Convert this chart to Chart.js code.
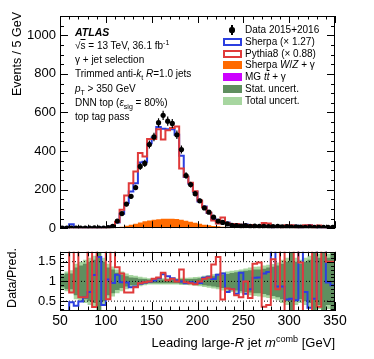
<!DOCTYPE html>
<html>
<head>
<meta charset="utf-8">
<script src="https://cdn.jsdelivr.net/npm/chart.js@4.4.1/dist/chart.umd.min.js"></script>
<style>
  body { margin: 0; background: #fff; width: 374px; height: 359px; position: relative; overflow: hidden;
         font-family: "Liberation Sans", Arial, sans-serif; color: #000; }
  canvas { position: absolute; left: 0; }
  #main  { top: 0; }
  #ratio { top: 240px; }
  .txt { position: absolute; white-space: nowrap; }
  .rot { position: absolute; white-space: nowrap; transform: rotate(-90deg); transform-origin: left top; }
  .ann { position: absolute; left: 75px; top: 24.5px; font-size: 10px; line-height: 14.3px; }
  .leg { position: absolute; left: 245px; font-size: 10px; line-height: 12px; white-space: nowrap; }
  .box { position: absolute; left: 223px; width: 19px; height: 8px; box-sizing: border-box; }
  sub, sup { font-size: 70%; line-height: 0; }
</style>
</head>
<body>
<canvas id="main" width="374" height="240"></canvas>
<canvas id="ratio" width="374" height="119"></canvas>

<div class="ann">
  <div style="font-weight:bold;font-style:italic;font-size:10.5px">ATLAS</div>
  <div>√<span style="text-decoration:overline">s</span> = 13 TeV, 36.1 fb<sup>-1</sup></div>
  <div>γ + jet selection</div>
  <div>Trimmed anti-<i>k</i><sub>t</sub> <i>R</i>=1.0 jets</div>
  <div><i>p</i><sub>T</sub> &gt; 350 GeV</div>
  <div>DNN top (<i>ε</i><sub>sig</sub> = 80%)</div>
  <div>top tag pass</div>
</div>

<div id="legend"></div>

<div class="rot" style="left:10px;top:112px;width:100px;text-align:right;font-size:12.5px;line-height:14px">Events / 5 GeV</div>
<div class="rot" style="left:5px;top:318px;width:80px;text-align:center;font-size:12.5px;line-height:14px">Data/Pred.</div>
<div class="txt" style="right:39px;top:335px;font-size:13px;line-height:16px">Leading large-<i>R</i> jet <i>m</i><sup>comb</sup> [GeV]</div>

<script>
// ── binning: 5 GeV bins from 50 to 350 GeV ──────────────────────────────────
const BIN_LO = 50, BIN_W = 5, NBINS = 60;

// ── main panel (events / bin) ───────────────────────────────────────────────
const dataCounts = [1,0,1,1,0,1,1,2,1,1, 3,10,37,76,125,165,211,320,336,434,
  473,547,585,555,543,484,408,273,226,179, 142,105,83,57,37,30,22,15,14,11,
  13,10,11,9,10,8,8,9,7,8, 6,7,6,5,6,5,5,4,5,4];
const dataErr = [1,0,1,1,0,1,1,1.4,1,1, 1.7,3.2,6.1,8.7,11.2,12.8,14.5,17.9,18.3,20.8,
  21.7,23.4,24.2,23.6,23.3,22,20.2,16.5,15,13.4, 11.9,10.2,9.1,7.5,6.1,5.5,4.7,3.9,3.7,3.3,
  3.6,3.2,3.3,3,3.2,2.8,2.8,3,2.6,2.8, 2.4,2.6,2.4,2.2,2.4,2.2,2.2,2,2.2,2];
const sherpaPred = [2,3,20,3,2,2,3,2,2,3, 5,11,30,75,130,190,233,340,345,440,
  470,525,515,513,513,485,375,265,231,189, 138,113,79,46,36,30,30,19,20,9,
  19,12,10,8,9,6.5,4,10,8,11, 11,13,3,8,15,9,2.5,2,5,4.5];
const pythiaPred = [1,1,1,1,1,1,1,1,1,1, 2,8,32,96,170,233,294,390,372,462,
  462,513,460,508,520,527,310,268,236,192, 143,108,81,40,24,56,27,19,22,18,
  10,17,7,7,27,25,5,9,3,15, 15,3,4,15,15,2.5,14,2,3,3];
const wzGamma = [0,0,0,0,0,0,0,0,0.5,1, 1.5,2,4,7,11,16,21,27,32,36,
  39,42,44,45,45,43,40,36,31,26, 21,17,14,11,9,7,5,4,3,2.5,
  2,1.5,1.2,1,1,1,0.8,0.8,0.8,0.6, 0.6,0.6,0.5,0.5,0.5,0.4,0.4,0.4,0.4,0.3];
const ttGamma = [0,0,0,0,0,0,0,0,0,0, 0,0.2,0.4,0.8,1.2,1.8,2.4,3,3.5,4,
  4.3,4.5,4.6,4.6,4.4,4.1,3.7,3.2,2.7,2.2, 1.8,1.4,1.1,0.9,0.7,0.5,0.4,0.3,0.3,0.2,
  0.2,0.2,0.2,0.2,0.2,0.2,0.2,0.2,0.2,0.2, 0.1,0.1,0.1,0.1,0.1,0.1,0.1,0.1,0.1,0.1];

// ── ratio panel (data / prediction) ─────────────────────────────────────────
const sherpaRatio = [0,0,0.47,0.38,0.49,0.6,0.73,1.16,1.62,0.4,
  1.05,0.96,1.17,0.98,0.97,0.85,0.87,0.94,0.97,0.99,
  1.02,1.08,1.18,1.13,1.08,1.03,1.0,0.95,0.98,0.95,
  0.96,1.09,1.12,1.06,1.17,1.2,0.73,0.8,0.69,1.22,
  0.69,0.8,1.09,1.1,1.2,1.24,2.0,0.87,0.87,0.54,
  0.56,0.52,2.0,0.73,0.33,0.56,2.0,2.0,0.97,0.9];
const pythiaRatio = [2.0,2.0,0.72,2.0,0.6,0.6,2.0,0.35,2.0,2.0,
  0.55,2.0,1.36,1.2,0.72,0.72,0.85,0.95,0.98,1.0,
  1.07,1.1,1.22,1.03,1.07,1.0,1.3,0.98,0.95,0.93,
  1.0,1.07,1.1,1.43,1.62,0.54,0.82,0.8,0.65,0.6,
  1.0,0.58,1.45,1.48,0.36,0.4,1.56,0.8,2.0,0.0,
  0.0,2.0,1.48,0.0,0.0,2.0,0.36,2.0,1.5,1.5];
const statUnc = [0.15,0.2,0.2,0.35,0.4,0.45,0.5,0.55,0.75,0.5,
  0.35,0.3,0.22,0.17,0.13,0.1,0.09,0.07,0.06,0.05,
  0.05,0.05,0.05,0.05,0.05,0.05,0.06,0.06,0.06,0.07,
  0.08,0.1,0.11,0.13,0.15,0.17,0.19,0.21,0.23,0.25,
  0.27,0.28,0.3,0.3,0.32,0.35,0.37,0.4,0.45,0.5,
  0.75,0.5,0.45,0.5,0.55,0.75,0.6,0.75,0.6,0.75];
const totalUnc = [0.2,0.25,0.28,0.45,0.5,0.55,0.6,0.65,0.8,0.6,
  0.45,0.38,0.3,0.25,0.2,0.16,0.14,0.12,0.1,0.08,
  0.08,0.08,0.08,0.08,0.08,0.08,0.09,0.09,0.1,0.11,
  0.12,0.14,0.16,0.18,0.2,0.23,0.25,0.27,0.28,0.3,
  0.33,0.35,0.37,0.38,0.4,0.42,0.44,0.48,0.55,0.6,
  0.75,0.6,0.55,0.6,0.65,0.75,0.7,0.75,0.7,0.75];

// ── axes ────────────────────────────────────────────────────────────────────
const xTicks      = [50, 100, 150, 200, 250, 300, 350];
const yTicksMain  = [0, 200, 400, 600, 800, 1000];
const yTicksRatio = [0.5, 1, 1.5];
const refLines    = [0.5, 1, 1.5];

const FONT = '"Liberation Sans", Arial, sans-serif';
const C = {
  sherpa: '#2b3fe0', pythia: '#e03a3a', wz: '#ff6a00', tt: '#cc00ff',
  stat: '#5f8f5f', total: '#a7d6a0'
};

const edges   = Array.from({ length: NBINS + 1 }, (_, i) => BIN_LO + i * BIN_W);
const centers = edges.slice(0, -1).map(e => e + BIN_W / 2);

function stepPoints(vals) {
  const pts = [];
  vals.forEach((v, i) => { pts.push({ x: edges[i], y: v }, { x: edges[i + 1], y: v }); });
  return pts;
}

// ── ROOT style frame with inward ticks on all four sides ───────────────────
function rootFrame(o) {
  return {
    id: 'rootFrame',
    afterDraw(chart) {
      const { ctx, chartArea: a, scales: { x, y } } = chart;
      ctx.save();
      ctx.strokeStyle = '#000';
      ctx.lineWidth = 1;
      ctx.beginPath();
      const nx = Math.round((x.max - x.min) / o.xMinor);
      for (let i = 0; i <= nx; i++) {
        const v = x.min + i * o.xMinor;
        const len = (Math.abs(v / o.xMajor - Math.round(v / o.xMajor)) < 1e-6) ? o.xMajorLen : o.xMajorLen / 2;
        const px = Math.round(x.getPixelForValue(v)) + 0.5;
        ctx.moveTo(px, a.bottom); ctx.lineTo(px, a.bottom - len);
        ctx.moveTo(px, a.top);    ctx.lineTo(px, a.top + len);
      }
      const y0 = Math.ceil(y.min / o.yMinor - 1e-6), y1 = Math.floor(y.max / o.yMinor + 1e-6);
      for (let i = y0; i <= y1; i++) {
        const v = i * o.yMinor;
        const len = (Math.abs(v / o.yMajor - Math.round(v / o.yMajor)) < 1e-6) ? o.yMajorLen : o.yMajorLen / 2;
        const py = Math.round(y.getPixelForValue(v)) + 0.5;
        ctx.moveTo(a.left, py);  ctx.lineTo(a.left + len, py);
        ctx.moveTo(a.right, py); ctx.lineTo(a.right - len, py);
      }
      ctx.stroke();
      ctx.strokeRect(Math.round(a.left) + 0.5, Math.round(a.top) + 0.5,
                     Math.round(a.right - a.left) - 1, Math.round(a.bottom - a.top) - 1);
      ctx.restore();
    }
  };
}

// vertical error bars on the data points
const errorBars = {
  id: 'errorBars',
  afterDatasetsDraw(chart) {
    const { ctx, chartArea: a, scales: { x, y } } = chart;
    chart.data.datasets.forEach(ds => {
      if (!ds.errors) return;
      ctx.save();
      ctx.beginPath();
      ctx.rect(a.left, a.top, a.right - a.left, a.bottom - a.top);
      ctx.clip();
      ctx.strokeStyle = '#000';
      ctx.lineWidth = 1.2;
      ctx.beginPath();
      ds.data.forEach((p, i) => {
        const e = ds.errors[i];
        if (!e) return;
        const px = x.getPixelForValue(p.x);
        ctx.moveTo(px, y.getPixelForValue(p.y - e));
        ctx.lineTo(px, y.getPixelForValue(p.y + e));
      });
      ctx.stroke();
      ctx.restore();
    });
  }
};

const lineDefaults = { pointRadius: 0, tension: 0, fill: false };

// ── main panel ──────────────────────────────────────────────────────────────
new Chart(document.getElementById('main'), {
  type: 'line',
  data: {
    datasets: [
      { data: centers.map((c, i) => ({ x: c, y: dataCounts[i] })), errors: dataErr,
        showLine: false, pointRadius: 2.6, pointBorderWidth: 0, pointBackgroundColor: '#000', order: 0 },
      { ...lineDefaults, data: stepPoints(pythiaPred), borderColor: C.pythia, borderWidth: 2, order: 1 },
      { ...lineDefaults, data: stepPoints(sherpaPred), borderColor: C.sherpa, borderWidth: 2, order: 2 },
      { ...lineDefaults, data: stepPoints(ttGamma), borderWidth: 0, fill: 'origin', backgroundColor: C.tt, order: 3 },
      { ...lineDefaults, data: stepPoints(wzGamma.map((v, i) => v + ttGamma[i])), borderWidth: 0,
        fill: 'origin', backgroundColor: C.wz, order: 4 }
    ]
  },
  options: {
    responsive: false, animation: false, devicePixelRatio: 1,
    layout: { padding: { left: 0, right: 39, top: 16, bottom: 5 } },
    plugins: { legend: { display: false }, tooltip: { enabled: false } },
    scales: {
      x: { type: 'linear', min: 50, max: 350, display: false },
      y: {
        type: 'linear', min: 0, max: 1100,
        afterFit: s => { s.width = 60; },
        grid: { display: false, drawTicks: false }, border: { display: false },
        ticks: { stepSize: 200, padding: 4, color: '#000', font: { family: FONT, size: 13 },
                 callback: v => yTicksMain.includes(v) ? String(v) : null }
      }
    }
  },
  plugins: [errorBars, rootFrame({ xMinor: 10, xMajor: 50, xMajorLen: 7, yMinor: 50, yMajor: 200, yMajorLen: 8 })]
});

// ── ratio panel ─────────────────────────────────────────────────────────────
const ratioSets = [
  { ...lineDefaults, data: stepPoints(pythiaRatio), borderColor: C.pythia, borderWidth: 2, order: 0, clip: 0 },
  { ...lineDefaults, data: stepPoints(sherpaRatio), borderColor: C.sherpa, borderWidth: 2, order: 1, clip: 0 },
  ...refLines.map(r => ({ ...lineDefaults, data: [{ x: 50, y: r }, { x: 350, y: r }],
    borderColor: '#000', borderWidth: 1, borderDash: [1, 2], order: 2 })),
  { ...lineDefaults, data: stepPoints(statUnc.map(s => 1 - s)), borderWidth: 0, order: 3 },
  { ...lineDefaults, data: stepPoints(statUnc.map(s => 1 + s)), borderWidth: 0, fill: 5,
    backgroundColor: C.stat, order: 3 },
  { ...lineDefaults, data: stepPoints(totalUnc.map(s => 1 - s)), borderWidth: 0, order: 4 },
  { ...lineDefaults, data: stepPoints(totalUnc.map(s => 1 + s)), borderWidth: 0, fill: 7,
    backgroundColor: C.total, order: 4 }
];

new Chart(document.getElementById('ratio'), {
  type: 'line',
  data: { datasets: ratioSets },
  options: {
    responsive: false, animation: false, devicePixelRatio: 1,
    layout: { padding: { left: 0, right: 39, top: 3, bottom: 0 } },
    plugins: { legend: { display: false }, tooltip: { enabled: false } },
    scales: {
      x: {
        type: 'linear', min: 50, max: 350,
        afterFit: s => { s.height = 48; },
        grid: { display: false, drawTicks: false }, border: { display: false },
        ticks: { stepSize: 50, padding: 2, autoSkip: false, maxRotation: 0, color: '#000',
                 font: { family: FONT, size: 14 },
                 callback: v => xTicks.includes(v) ? String(v) : null }
      },
      y: {
        type: 'linear', min: 0.25, max: 1.75,
        afterFit: s => { s.width = 60; },
        grid: { display: false, drawTicks: false }, border: { display: false },
        ticks: { stepSize: 0.25, autoSkip: false, padding: 4, color: '#000', font: { family: FONT, size: 13 },
                 callback: v => yTicksRatio.some(t => Math.abs(t - v) < 1e-6) ? String(v) : null }
      }
    }
  },
  plugins: [rootFrame({ xMinor: 10, xMajor: 50, xMajorLen: 9, yMinor: 0.1, yMajor: 0.5, yMajorLen: 8 })]
});

// ── legend ──────────────────────────────────────────────────────────────────
const legendRows = [
  { y: 30,  kind: 'data',    html: 'Data 2015+2016' },
  { y: 42,  kind: 'outline', color: C.sherpa, html: 'Sherpa (× 1.27)' },
  { y: 53.5,kind: 'outline', color: C.pythia, html: 'Pythia8 (× 0.88)' },
  { y: 65,  kind: 'fill',    color: C.wz,     html: 'Sherpa <i>W</i>/<i>Z</i> + γ' },
  { y: 77,  kind: 'fill',    color: C.tt,     html: 'MG <i>t</i><i style="text-decoration:overline">t</i> + γ' },
  { y: 89,  kind: 'fill',    color: C.stat,   html: 'Stat. uncert.' },
  { y: 100.5,kind: 'fill',   color: C.total,  html: 'Total uncert.' }
];
const leg = document.getElementById('legend');
legendRows.forEach(r => {
  let mark = '';
  if (r.kind === 'data') {
    mark = `<div style="position:absolute;left:231.4px;top:${r.y - 5}px;width:1.2px;height:10px;background:#000"></div>
            <div style="position:absolute;left:229.4px;top:${r.y - 2.6}px;width:5.2px;height:5.2px;border-radius:50%;background:#000"></div>`;
  } else if (r.kind === 'outline') {
    mark = `<div class="box" style="top:${r.y - 4}px;border:2px solid ${r.color};background:#fff"></div>`;
  } else {
    mark = `<div class="box" style="top:${r.y - 4}px;background:${r.color}"></div>`;
  }
  leg.insertAdjacentHTML('beforeend', mark + `<div class="leg" style="top:${r.y - 6}px">${r.html}</div>`);
});
</script>
</body>
</html>
